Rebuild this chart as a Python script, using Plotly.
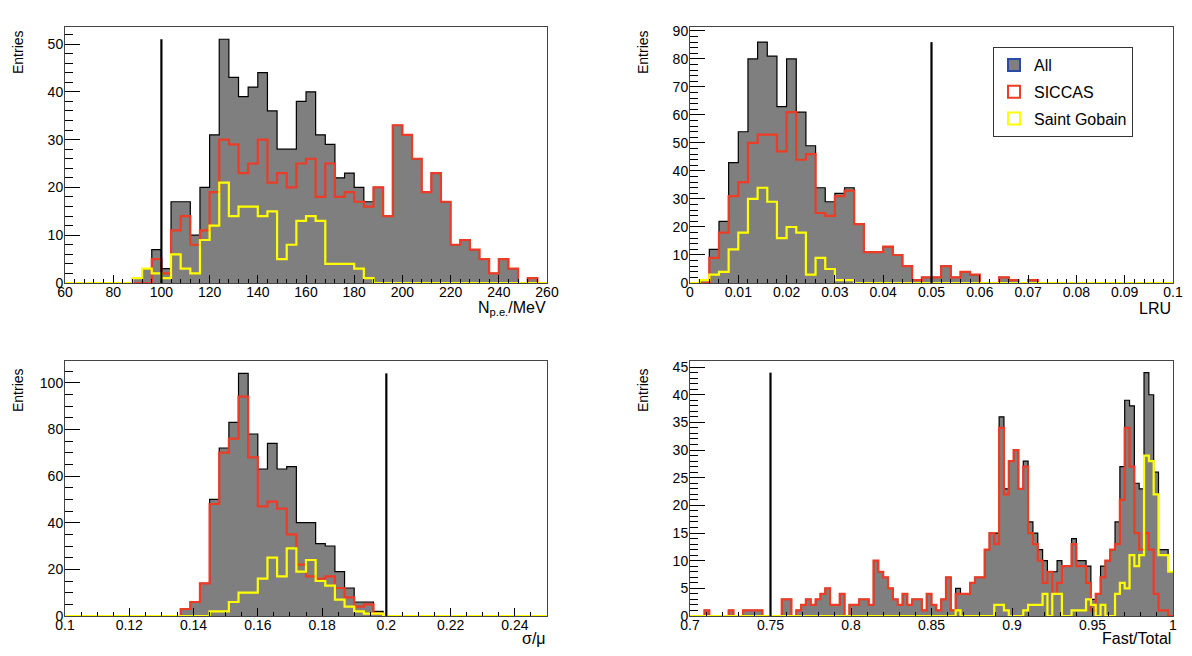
import numpy as np
import plotly.graph_objects as go

FONT = "Liberation Sans, Arial, sans-serif"
GRAY = "#7f7f7f"
RED = "#ee3b26"
YELLOW = "#ffff00"

# N_pe/MeV : 50 bins from 60 to 260
npe_edges = np.linspace(60, 260, 51)
npe_all = [0, 0, 0, 0, 0, 0, 0, 1, 3, 7, 3, 17, 17, 10, 20, 31, 51, 43, 39, 41,
           44, 36, 28, 28, 38, 40, 31, 29, 22, 23, 20, 17, 20, 14, 33, 31, 26, 19, 23, 17,
           8, 9, 7, 5, 2, 5, 3, 0, 1, 0]
npe_siccas = [0, 0, 0, 0, 0, 0, 0, 0, 0, 5, 2, 11, 14, 8, 11, 19, 30, 29, 23, 25,
              30, 21, 23, 20, 25, 26, 18, 25, 18, 19, 17, 16, 20, 14, 33, 31, 26, 19, 23, 17,
              8, 9, 7, 5, 2, 5, 3, 0, 1, 0]
npe_sg = [0, 0, 0, 0, 0, 0, 0, 1, 3, 2, 1, 6, 3, 2, 9, 12, 21, 14, 16, 16,
          14, 15, 5, 8, 13, 14, 13, 4, 4, 4, 3, 1, 0, 0, 0, 0, 0, 0, 0, 0,
          0, 0, 0, 0, 0, 0, 0, 0, 0, 0]

# LRU : 50 bins from 0 to 0.1
lru_edges = np.linspace(0, 0.1, 51)
lru_all = [0, 1, 12, 22, 43, 54, 80, 86, 81, 63, 80, 61, 49, 34, 29, 32, 34, 21, 11, 11,
           13, 10, 6, 1, 2, 2, 6, 2, 4, 3, 0, 0, 2, 1, 0, 1, 0, 0, 0, 0,
           0, 0, 0, 0, 0, 0, 0, 0, 0, 0]
lru_siccas = [0, 0, 9, 18, 31, 36, 50, 53, 53, 47, 61, 44, 46, 25, 24, 31, 33, 21, 11, 11,
              13, 10, 6, 1, 2, 2, 6, 2, 4, 3, 0, 0, 2, 1, 0, 1, 0, 0, 0, 0,
              0, 0, 0, 0, 0, 0, 0, 0, 0, 0]
lru_sg = [0, 1, 3, 4, 12, 18, 30, 34, 29, 16, 20, 18, 3, 9, 5, 1, 1, 0, 0, 0,
          0, 0, 0, 0, 0, 0, 0, 0, 0, 0, 0, 0, 0, 0, 0, 0, 0, 0, 0, 0,
          0, 0, 0, 0, 0, 0, 0, 0, 0, 0]

# sigma/mu : 50 bins from 0.1 to 0.25
sig_edges = np.linspace(0.1, 0.25, 51)
sig_all = [0, 0, 0, 0, 0, 0, 0, 0, 0, 0, 0, 0, 3, 6, 14, 50, 72, 83, 104, 78,
           63, 74, 63, 64, 40, 40, 31, 30, 19, 12, 6, 6, 2, 0, 0, 0, 0, 0, 0, 0,
           0, 0, 0, 0, 0, 0, 0, 0, 0, 0]
sig_siccas = [0, 0, 0, 0, 0, 0, 0, 0, 0, 0, 0, 0, 3, 6, 14, 48, 70, 76, 94, 68,
              47, 49, 46, 35, 22, 17, 16, 17, 12, 8, 4, 5, 1, 0, 0, 0, 0, 0, 0, 0,
              0, 0, 0, 0, 0, 0, 0, 0, 0, 0]
sig_sg = [0, 0, 0, 0, 0, 0, 0, 0, 0, 0, 0, 0, 0, 0, 0, 2, 2, 6, 10, 10,
          16, 25, 17, 29, 19, 24, 15, 13, 7, 4, 2, 1, 1, 0, 0, 0, 0, 0, 0, 0,
          0, 0, 0, 0, 0, 0, 0, 0, 0, 0]

# Fast/Total : 100 bins from 0.7 to 1.0
ft_edges = np.linspace(0.7, 1.0, 101)
ft_all = [0, 0, 0, 1, 0, 0, 0, 0, 1, 0, 0, 1, 1, 1, 1, 0, 0, 0, 0, 3,
          3, 0, 1, 2, 3, 2, 3, 4, 5, 2, 2, 4, 0, 2, 2, 3, 3, 2, 10, 8,
          7, 5, 3, 2, 4, 2, 3, 3, 1, 4, 2, 1, 3, 7, 1, 5, 4, 4, 6, 7,
          7, 12, 15, 15, 36, 23, 28, 30, 23, 28, 17, 15, 12, 10, 8, 8, 10, 9, 9, 14,
          10, 10, 9, 3, 4, 9, 10, 12, 17, 27, 39, 38, 24, 23, 44, 40, 26, 12, 12, 8]
ft_siccas = [0, 0, 0, 1, 0, 0, 0, 0, 1, 0, 0, 1, 1, 1, 1, 0, 0, 0, 0, 3,
             3, 0, 1, 2, 3, 2, 3, 4, 5, 2, 2, 4, 0, 2, 2, 3, 3, 2, 10, 8,
             7, 5, 3, 2, 4, 2, 3, 3, 1, 4, 2, 1, 3, 7, 1, 4, 4, 4, 6, 7,
             7, 12, 15, 13, 34, 22, 28, 30, 23, 27, 15, 13, 10, 6, 8, 4, 6, 9, 9, 13,
             9, 9, 6, 1, 4, 7, 10, 12, 13, 21, 34, 27, 15, 12, 15, 12, 4, 1, 1, 0]
ft_sg = [0, 0, 0, 0, 0, 0, 0, 0, 0, 0, 0, 0, 0, 0, 0, 0, 0, 0, 0, 0,
         0, 0, 0, 0, 0, 0, 0, 0, 0, 0, 0, 0, 0, 0, 0, 0, 0, 0, 0, 0,
         0, 0, 0, 0, 0, 0, 0, 0, 0, 0, 0, 0, 0, 0, 0, 1, 0, 0, 0, 0,
         0, 0, 0, 2, 2, 1, 0, 0, 0, 1, 2, 2, 2, 4, 0, 4, 4, 0, 0, 1,
         1, 1, 3, 2, 0, 2, 0, 0, 4, 6, 5, 11, 9, 11, 29, 28, 22, 11, 11, 8]

# selection cuts (vertical lines)
cuts = [100, 0.05, 0.2, 0.75]

x_titles = ["N<sub>p.e.</sub>/MeV", "LRU", "σ/μ", "Fast/Total"]


def step(edges, counts, xa, ya, **kw):
    return go.Scatter(x=list(edges), y=list(counts) + [counts[-1]], mode="lines",
                      line_shape="hv", xaxis=xa, yaxis=ya, showlegend=False,
                      hoverinfo="skip", **kw)


# the page body adds an 8px margin, so the figure is 16px smaller than the window
OFF = 8
W, H = 1192 - 2 * OFF, 656 - 2 * OFF


def px(x):
    return (x - OFF) / W


def py(y):
    return 1 - (y - OFF) / H


left_x = [px(65), px(547)]
right_x = [px(690), px(1173)]
top_y = [py(283), py(27)]
bot_y = [py(616), py(361)]

panels = [
    dict(edges=npe_edges, all=npe_all, sic=npe_siccas, sg=npe_sg, cut=cuts[0],
         xd=left_x, yd=top_y, xr=[60, 260], yr=[0, 53.56], xdt=20, xmn=4, ydt=10, ymn=2),
    dict(edges=lru_edges, all=lru_all, sic=lru_siccas, sg=lru_sg, cut=cuts[1],
         xd=right_x, yd=top_y, xr=[0, 0.1], yr=[0, 91.4], xdt=0.01, xmn=0.002, ydt=10, ymn=2),
    dict(edges=sig_edges, all=sig_all, sic=sig_siccas, sg=sig_sg, cut=cuts[2],
         xd=left_x, yd=bot_y, xr=[0.1, 0.25], yr=[0, 109.3], xdt=0.02, xmn=0.005, ydt=20, ymn=5),
    dict(edges=ft_edges, all=ft_all, sic=ft_siccas, sg=ft_sg, cut=cuts[3],
         xd=right_x, yd=bot_y, xr=[0.7, 1.0000001], yr=[0, 46.1], xdt=0.05, xmn=0.01, ydt=5, ymn=1),
]

fig = go.Figure()
layout = {}
for i, p in enumerate(panels, start=1):
    sfx = "" if i == 1 else str(i)
    xa, ya = "x" + sfx, "y" + sfx
    fig.add_trace(step(p["edges"], p["all"], xa, ya, fill="tozeroy", fillcolor=GRAY,
                       line=dict(color="black", width=1.2)))
    fig.add_trace(step(p["edges"], p["sic"], xa, ya, line=dict(color=RED, width=2.2)))
    fig.add_trace(step(p["edges"], p["sg"], xa, ya, line=dict(color=YELLOW, width=2.2)))
    fig.add_trace(go.Scatter(x=[p["cut"], p["cut"]], y=[0, max(p["all"])], mode="lines",
                             line=dict(color="black", width=2.2), xaxis=xa, yaxis=ya,
                             showlegend=False, hoverinfo="skip"))

    common = dict(showline=True, linecolor="#444", linewidth=1, mirror=True,
                  ticks="inside", tickcolor="black", tickwidth=1, showgrid=False,
                  zeroline=False, tickfont=dict(family=FONT, size=14, color="black"),
                  automargin=False)
    layout["xaxis" + sfx] = dict(common, domain=p["xd"], range=p["xr"], anchor=ya,
                                 tick0=p["xr"][0], dtick=p["xdt"], ticklen=8,
                                 ticklabelstandoff=-4,
                                 minor=dict(ticks="inside", ticklen=4, dtick=p["xmn"],
                                            tick0=p["xr"][0], tickcolor="black"))
    layout["yaxis" + sfx] = dict(common, domain=p["yd"], range=p["yr"], anchor=xa,
                                 tick0=0, dtick=p["ydt"], ticklen=15,
                                 ticklabelstandoff=-2,
                                 minor=dict(ticks="inside", ticklen=8, dtick=p["ymn"],
                                            tick0=0, tickcolor="black"))

# legend entries (drawn in the LRU panel)
for name, fc, lc in [("All", GRAY, "#2a4aa8"), ("SICCAS", "white", RED),
                     ("Saint Gobain", "white", YELLOW)]:
    fig.add_trace(go.Bar(x=[None], y=[None], name=name, xaxis="x2", yaxis="y2",
                         marker=dict(color=fc, line=dict(color=lc, width=2)),
                         legendgroup=name))

ann = []
for xc, yt in [(18, 28), (643, 28), (18, 366), (643, 366)]:
    ann.append(dict(text="Entries", x=px(xc), y=py(yt), xref="paper", yref="paper",
                    textangle=-90, xanchor="center", yanchor="top", showarrow=False,
                    font=dict(family=FONT, size=14, color="black")))
for txt, xr, yc in zip(x_titles, [548, 1173, 548, 1173], [308, 308, 638, 638]):
    ann.append(dict(text=txt, x=px(xr), y=py(yc), xref="paper", yref="paper",
                    xanchor="right", yanchor="middle", showarrow=False,
                    font=dict(family=FONT, size=16, color="black")))

fig.update_layout(
    **layout,
    width=W, height=H,
    margin=dict(l=0, r=0, t=0, b=0),
    paper_bgcolor="white", plot_bgcolor="white",
    font=dict(family=FONT, color="black"),
    annotations=ann,
    showlegend=True,
    legend=dict(x=px(993), y=py(47), xanchor="left", yanchor="top",
                bgcolor="white", bordercolor="#333", borderwidth=1,
                font=dict(family=FONT, size=16, color="black"),
                tracegroupgap=3, itemwidth=30, entrywidth=128),
)

fig.write_html("out.html")
